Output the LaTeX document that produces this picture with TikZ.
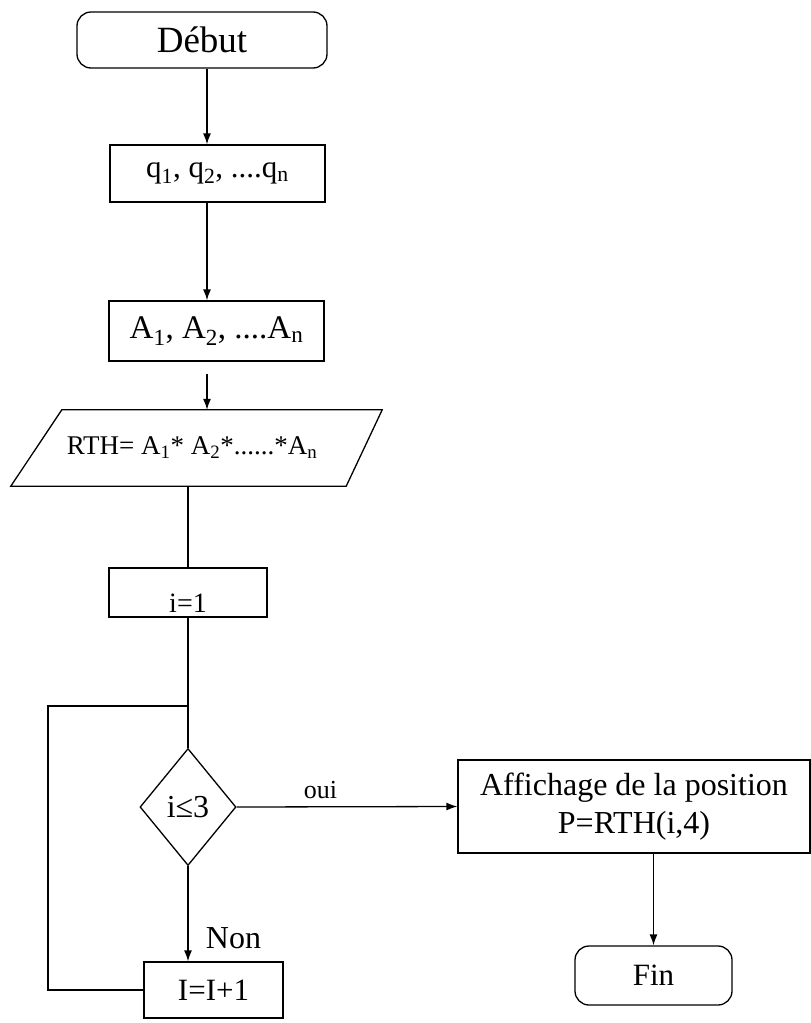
\documentclass[tikz,border=0pt]{standalone}
\usepackage{fontspec}
\setmainfont{Liberation Serif}
\usetikzlibrary{shapes.geometric, arrows.meta}

\begin{document}
\begin{tikzpicture}[x=1pt, y=-1pt,
    box/.style={draw, line width=1.3pt, inner sep=0pt},
    term/.style={box, rounded corners=14pt},
    link/.style={line width=1.3pt},
    flow/.style={link, -{Latex[length=11pt, width=8pt]}}]
    \useasboundingbox (0,0) rectangle (811,1023);
    \coordinate (spine) at (207,0);
    % start
    \node[term, minimum width=250pt, minimum height=56pt, font=\fontsize{37}{44}\selectfont] (debut) at (202,40) {Début};
    % inputs
    \node[box, minimum width=215pt, minimum height=57pt, font=\fontsize{31}{37}\selectfont] (qbox) at (217.5,173.5) {q\textsubscript{1}, q\textsubscript{2}, ....q\textsubscript{n}};
    \node[box, minimum width=215pt, minimum height=60pt, font=\fontsize{33}{39}\selectfont] (abox) at (216.5,331) {A\textsubscript{1}, A\textsubscript{2}, ....A\textsubscript{n}};
    % product (parallelogram)
    \node[minimum width=328pt, minimum height=76pt, inner sep=0pt, font=\fontsize{27}{32}\selectfont] (rth) at (192,448) {RTH= A\textsubscript{1}* A\textsubscript{2}*......*A\textsubscript{n}};
    \draw[link] ([xshift=-17pt]rth.south west) -- ([xshift=34pt]rth.north west)
        -- ([xshift=26pt]rth.north east) -- ([xshift=-10pt]rth.south east) -- cycle;
    % counter
    \node[box, minimum width=158pt, minimum height=49pt, font=\fontsize{28}{33}\selectfont] (ibox) at (188,592.5) {\raisebox{-20pt}[0pt][0pt]{i=1}};
    % test
    \node[box, diamond, minimum width=96pt, minimum height=117pt, font=\fontsize{32}{38}\selectfont] (dia) at (188,807) {i≤3};
    \node[box, minimum width=139pt, minimum height=56pt, font=\fontsize{31}{37}\selectfont] (incr) at (213.5,990) {I=I+1};
    % output and end
    \node[box, minimum width=352pt, minimum height=93pt, align=center, font=\fontsize{32}{38}\selectfont] (aff) at (634,806.5) {Affichage de la position\\P=RTH(i,4)};
    \node[term, minimum width=157pt, minimum height=59pt, font=\fontsize{31}{37}\selectfont] (fin) at (653.5,975.5) {Fin};
    % connectors
    \draw[flow] (debut.south -| spine) -- (qbox.north -| spine);
    \draw[flow] (qbox.south -| spine) -- (abox.north -| spine);
    \draw[flow] (abox.south -| spine) ++(0,12) -- (rth.north -| spine);
    \draw[link] (rth.south -| ibox.north) -- (ibox.north);
    \draw[link] (ibox.south) -- (dia.north);
    \draw[flow] (dia.east) -- node[pos=0.38, above, yshift=4pt, font=\fontsize{26}{31}\selectfont] {oui} (aff.west);
    \draw[flow] (dia.south) -- node[pos=0.76, right, xshift=14pt, font=\fontsize{32}{38}\selectfont] {Non} (dia.south |- incr.north);
    \draw[flow] (aff.south -| fin.north) -- (fin.north);
    % loop back
    \coordinate (corner) at (48,706);
    \draw[link] (incr.west) -| (corner) -- (corner -| ibox.south);
\end{tikzpicture}
\end{document}
